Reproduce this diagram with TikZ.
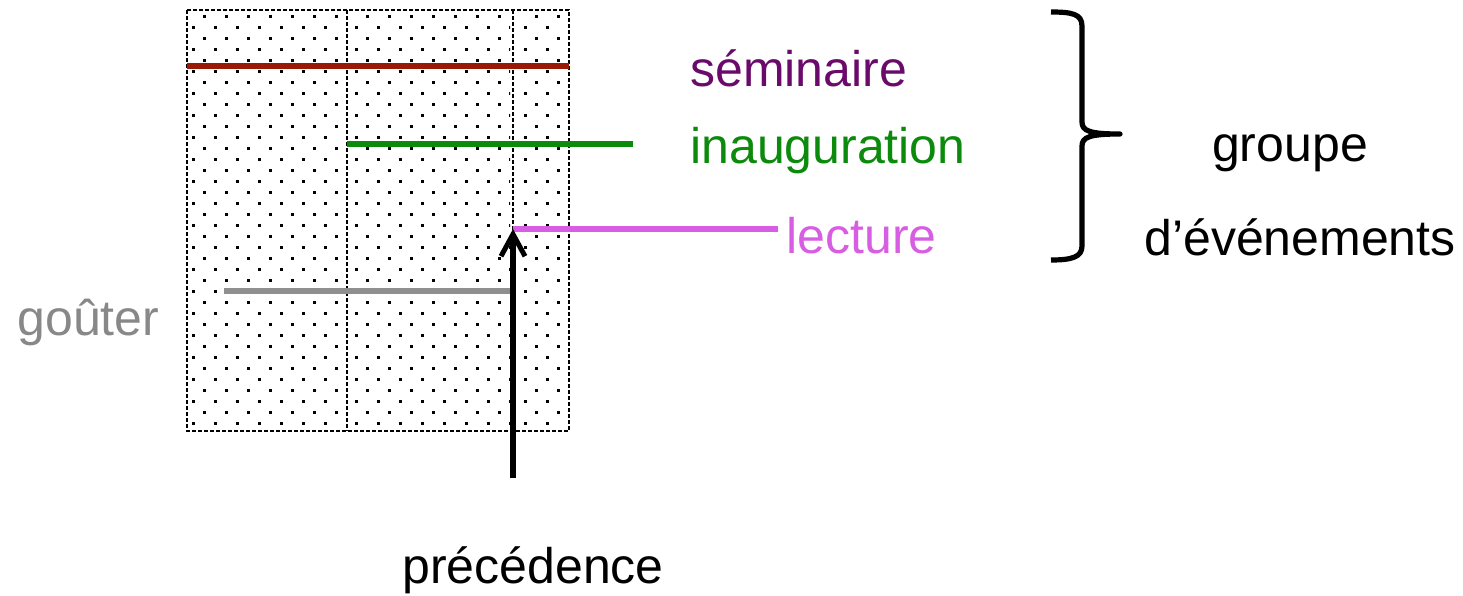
\documentclass[tikz,border=0pt]{standalone}
\usepackage{fontspec}
\setmainfont{Liberation Sans}
\usetikzlibrary{arrows.meta}
\definecolor{semred}{HTML}{9A1A08}
\definecolor{inagreen}{HTML}{0B8A0B}
\definecolor{lecmag}{HTML}{D75DE3}
\definecolor{goutgray}{HTML}{8F8F8F}
\definecolor{semtext}{HTML}{6A0A6A}
\tikzset{
  lbl/.style={font=\fontsize{25pt}{30pt}\selectfont, inner sep=0pt},
  evline/.style={line width=2.9pt},
  zone/.style={draw=black, line width=0.75pt, dash pattern=on 2pt off 1pt},
}
\begin{document}
\begin{tikzpicture}[x=0.5pt,y=-0.5pt]
\useasboundingbox (0,0) rectangle (1463,595);
% dotted zones
\foreach \L/\R/\o in {187/347/17, 347/513/20, 513/569/23}{
  \begin{scope}
    \clip (\L+3,12) rectangle (\R-3,429);
    \foreach \r in {0,...,38}{
      \foreach \c in {0,...,8}{
        \fill ({\L+\o-11*mod(\r,2)+22*\c-1.5},{16+11*\r-1.5}) rectangle +(3,3);
      }
    }
  \end{scope}
}
\coordinate (zt1) at (347,10); \coordinate (zb1) at (347,431);
\coordinate (zt2) at (513,10); \coordinate (zb2) at (513,431);
\draw[zone] (187,10) rectangle (569,431);
\draw[zone] (zt1) -- (zb1);
\draw[zone] (zt2) -- (zb2);
% event lines
\coordinate (s1) at (187,66);  \coordinate (s2) at (569,66);
\coordinate (i1) at (347,144); \coordinate (i2) at (633,144);
\coordinate (l1) at (513,229); \coordinate (l2) at (778,229);
\coordinate (g1) at (224,291); \coordinate (g2) at (510,291);
\coordinate (a0) at (513,478);
\draw[evline, semred] (s1) -- (s2);
\draw[evline, inagreen] (i1) -- (i2);
\draw[evline, lecmag] (l1) -- (l2);
\draw[evline, goutgray] (g1) -- (g2);
\draw[line width=3pt, -{Straight Barb[length=11pt,width=12pt,line width=2.5pt]}] (a0) -- (l1);
% labels
\node[lbl, text=semtext, anchor=west] (sem) at (690,68) {séminaire};
\node[lbl, text=inagreen, anchor=west] (ina) at (690,151) {inauguration};
\node[lbl, text=lecmag, anchor=west] (lec) at (786,236) {lecture};
\node[lbl, text=goutgray!95!black, anchor=west] (gou) at (17,322) {goûter};
\node[lbl] (grp) at (1290,153) {groupe};
\node[lbl] (dev) at (1300,237) {d’événements};
\node[lbl] (pre) at (533,570) {précédence};
% brace
\draw[line width=2.6pt, line join=round]
  (1051,12) .. controls (1072,12) and (1082,14) .. (1082,26)
  -- (1082,122) .. controls (1082,131) and (1090,134) .. (1120,134)
  .. controls (1090,134) and (1082,137) .. (1082,146)
  -- (1082,246) .. controls (1082,257) and (1072,260) .. (1051,260);
\end{tikzpicture}
\end{document}
